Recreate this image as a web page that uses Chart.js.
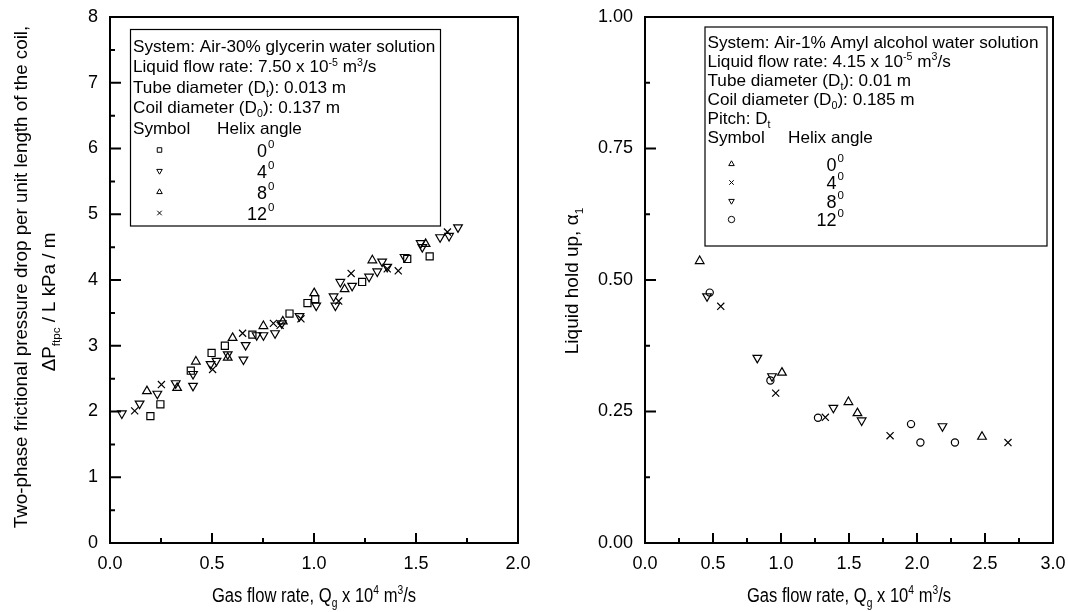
<!DOCTYPE html>
<html>
<head>
<meta charset="utf-8">
<title>Helical coil: pressure drop and liquid hold up</title>
<script src="https://cdn.jsdelivr.net/npm/chart.js"></script>
<style>
  body { margin: 0; background: #fff; }
  canvas { position: absolute; top: 0; }
  #left { left: 0; }
  #right { left: 534px; }
</style>
</head>
<body>
<canvas id="left" width="534" height="612"></canvas>
<canvas id="right" width="534" height="612"></canvas>
<script>
// left panel: pressure drop (kPa/m) vs gas flow rate (x 1e-4 m3/s)
const dp0x = [0.198, 0.247, 0.396, 0.498, 0.563, 0.698, 0.880, 0.968, 1.006, 1.236, 1.457, 1.567];
const dp0y = [1.93, 2.11, 2.62, 2.89, 3.00, 3.17, 3.49, 3.65, 3.71, 3.97, 4.32, 4.36];
const dp4x = [0.058, 0.145, 0.232, 0.322, 0.407, 0.407, 0.493, 0.522, 0.577, 0.654, 0.665, 0.719, 0.752, 0.809, 0.842, 0.929, 1.011, 1.096, 1.105, 1.129, 1.187, 1.270, 1.310, 1.334, 1.359, 1.444, 1.523, 1.531, 1.618, 1.662, 1.706];
const dp4y = [1.97, 2.12, 2.27, 2.43, 2.57, 2.39, 2.72, 2.77, 2.87, 2.79, 3.01, 3.16, 3.16, 3.19, 3.34, 3.45, 3.61, 3.75, 3.61, 3.97, 3.91, 4.05, 4.13, 4.28, 4.20, 4.35, 4.56, 4.50, 4.65, 4.67, 4.80];
const dp8x = [0.181, 0.329, 0.421, 0.577, 0.601, 0.752, 0.847, 1.001, 1.150, 1.286, 1.547];
const dp8y = [2.31, 2.36, 2.76, 2.82, 3.12, 3.30, 3.37, 3.80, 3.86, 4.30, 4.55];
const dp12x = [0.121, 0.252, 0.503, 0.650, 0.801, 0.834, 0.936, 1.121, 1.182, 1.359, 1.413, 1.654];
const dp12y = [2.01, 2.41, 2.64, 3.19, 3.34, 3.31, 3.41, 3.68, 4.10, 4.17, 4.14, 4.73];

// right panel: liquid hold up vs gas flow rate
const hu0x = [0.402, 1.007, 1.496, 1.562, 2.478];
const hu0y = [0.536, 0.324, 0.268, 0.247, 0.202];
const hu4x = [0.557, 0.961, 1.326, 1.802, 2.669];
const hu4y = [0.450, 0.285, 0.239, 0.204, 0.191];
const hu8x = [0.456, 0.826, 0.934, 1.385, 1.593, 2.187];
const hu8y = [0.469, 0.352, 0.317, 0.257, 0.233, 0.222];
const hu12x = [0.476, 0.922, 1.272, 1.956, 2.025, 2.279];
const hu12y = [0.476, 0.309, 0.238, 0.226, 0.191, 0.191];

const helixAngles = ['0', '4', '8', '12'];

const FONT = '"Liberation Sans", Arial, sans-serif';
Chart.defaults.font.family = FONT;
Chart.defaults.color = '#000';

const pts = (xs, ys) => xs.map((x, i) => ({x: x, y: ys[i]}));

// text with sub/superscripts: parts = [[text, ''|'^'|'_'], ...]
function richWidth(ctx, parts, size) {
  let w = 0;
  for (const [t, m] of parts) {
    ctx.font = (m ? size * 0.62 : size) + 'px ' + FONT;
    w += ctx.measureText(t).width;
  }
  return w;
}
function drawRich(ctx, parts, x, y, size, align, sx) {
  ctx.save();
  ctx.translate(x, y);
  ctx.scale(sx || 1, 1);
  ctx.fillStyle = '#000';
  ctx.textBaseline = 'alphabetic';
  ctx.textAlign = 'left';
  let cx = 0;
  const w = richWidth(ctx, parts, size);
  if (align === 'center') cx = -w / 2;
  if (align === 'right') cx = -w;
  for (const [t, m] of parts) {
    ctx.font = (m ? size * 0.62 : size) + 'px ' + FONT;
    const dy = m === '^' ? -size * 0.4 : m === '_' ? size * 0.25 : 0;
    ctx.fillText(t, cx, dy);
    cx += ctx.measureText(t).width;
  }
  ctx.restore();
}

function symbol(ctx, style, rot, r, x, y) {
  ctx.save();
  ctx.strokeStyle = '#000';
  ctx.fillStyle = 'rgba(0,0,0,0)';
  ctx.lineWidth = 1;
  Chart.helpers.drawPoint(ctx, {pointStyle: style, rotation: rot, radius: r, borderWidth: 1}, x, y);
  ctx.restore();
}

const decor = {
  id: 'decor',
  afterDatasetsDraw(chart, args, o) {
    const {ctx, chartArea: a} = chart;
    const sx = chart.scales.x, sy = chart.scales.y;
    ctx.save();
    ctx.strokeStyle = '#000';
    ctx.lineWidth = 2;
    ctx.strokeRect(a.left, a.top, a.right - a.left, a.bottom - a.top);
    // inward ticks, major every second one
    ctx.beginPath();
    const n = Math.round((sx.max - sx.min) / o.xMinor);
    for (let i = 1; i < n; i++) {
      const px = sx.getPixelForValue(sx.min + i * o.xMinor);
      const len = i % 2 === 0 ? 10 : 5;
      ctx.moveTo(px, a.bottom); ctx.lineTo(px, a.bottom - len);
    }
    const m = Math.round((sy.max - sy.min) / o.yMinor);
    for (let i = 1; i < m; i++) {
      const py = sy.getPixelForValue(sy.min + i * o.yMinor);
      const len = i % 2 === 0 ? 11 : 5;
      ctx.moveTo(a.left, py); ctx.lineTo(a.left + len, py);
    }
    ctx.stroke();

    // legend box
    const L = o.legend;
    ctx.lineWidth = 1.2;
    ctx.strokeRect(L.box[0], L.box[1], L.box[2], L.box[3]);
    L.lines.forEach((parts, i) => drawRich(ctx, parts, L.x, L.y0 + i * L.dy, L.size, 'left', L.sx));
    const hy = L.y0 + L.lines.length * L.dy;
    drawRich(ctx, [['Symbol', '']], L.x, hy, L.size, 'left', L.sx);
    drawRich(ctx, [['Helix angle', '']], L.headX, hy, L.size, 'left', L.sx);
    chart.data.datasets.forEach((ds, i) => {
      const y = L.symY0 + i * L.symDy;
      symbol(ctx, ds.pointStyle, ds.rotation || 0, L.symR, L.symX, y);
      drawRich(ctx, [[helixAngles[i], '']], L.angX, y + 6.5, 18, 'right');
      drawRich(ctx, [['0', '']], L.angX + 1, y - 2.5, 11.5, 'left');
    });

    // axis titles
    drawRich(ctx, o.xTitle, (a.left + a.right) / 2, 602, 19.5, 'center', 0.85);
    o.yTitle.forEach((parts, i) => {
      ctx.save();
      ctx.translate(o.yTitleX[i], o.yTitleY[i]);
      ctx.rotate(-Math.PI / 2);
      drawRich(ctx, parts, 0, 0, o.yTitleSize, 'center');
      ctx.restore();
    });
    ctx.restore();
  }
};

const xTitle = [['Gas flow rate, Q', ''], ['g', '_'], [' x 10', ''], ['4', '^'], [' m', ''], ['3', '^'], ['/s', '']];

// plot frame inside each 534 x 612 canvas: left = y axis width, top 17, bottom 543, 408 wide.
// label overflow padding is zeroed so that layout.padding alone places the frame.
function makeChart(id, datasets, xMax, yMax, yStep, yDigits, yAxisWidth, decorOpts) {
  return new Chart(document.getElementById(id), {
    type: 'scatter',
    data: {datasets: datasets},
    options: {
      responsive: false,
      animation: false,
      layout: {autoPadding: false, padding: {left: 0, top: 17, right: 534 - yAxisWidth - 408, bottom: 0}},
      plugins: {legend: {display: false}, tooltip: {enabled: false}, decor: decorOpts},
      scales: {
        x: {
          type: 'linear', min: 0, max: xMax,
          afterFit: (s) => { s.height = 69; s.paddingLeft = 0; s.paddingRight = 0; },
          grid: {display: false, drawTicks: false},
          border: {display: false},
          ticks: {stepSize: 0.5, padding: 10, autoSkip: false, maxRotation: 0,
                  font: {size: 18}, callback: (v) => v.toFixed(1)}
        },
        y: {
          type: 'linear', min: 0, max: yMax,
          afterFit: (s) => { s.width = yAxisWidth; s.paddingTop = 0; s.paddingBottom = 0; },
          grid: {display: false, drawTicks: false},
          border: {display: false},
          ticks: {stepSize: yStep, padding: 12, autoSkip: false,
                  font: {size: 18}, callback: (v) => v.toFixed(yDigits)}
        }
      }
    },
    plugins: [decor]
  });
}

const base = {borderColor: '#000', backgroundColor: 'rgba(0,0,0,0)', borderWidth: 1.2, showLine: false};

makeChart('left', [
  Object.assign({label: '0', data: pts(dp0x, dp0y), pointStyle: 'rect', radius: 5}, base),
  Object.assign({label: '4', data: pts(dp4x, dp4y), pointStyle: 'triangle', rotation: 180, radius: 5}, base),
  Object.assign({label: '8', data: pts(dp8x, dp8y), pointStyle: 'triangle', radius: 5}, base),
  Object.assign({label: '12', data: pts(dp12x, dp12y), pointStyle: 'crossRot', radius: 5}, base)
], 2, 8, 1, 0, 110, {
  xMinor: 0.25, yMinor: 0.5,
  xTitle: xTitle,
  yTitle: [
    [['Two-phase frictional pressure drop per unit length of the coil,', '']],
    [['\u0394P', ''], ['ftpc', '_'], [' / L kPa / m', '']]
  ],
  yTitleX: [27, 55], yTitleY: [277, 302], yTitleSize: 18.75,
  legend: {
    box: [130.5, 29.5, 310, 196.5], x: 133, y0: 51.5, dy: 20.6, size: 16.5, sx: 1.04,
    lines: [
      [['System: Air-30% glycerin water solution', '']],
      [['Liquid flow rate: 7.50 x 10', ''], ['-5', '^'], [' m', ''], ['3', '^'], ['/s', '']],
      [['Tube diameter (D', ''], ['t', '_'], ['): 0.013 m', '']],
      [['Coil diameter (D', ''], ['0', '_'], ['): 0.137 m', '']]
    ],
    headX: 217, symX: 159.5, symY0: 150, symDy: 21, symR: 3.2, angX: 267
  }
});

makeChart('right', [
  Object.assign({label: '0', data: pts(hu0x, hu0y), pointStyle: 'triangle', radius: 5}, base),
  Object.assign({label: '4', data: pts(hu4x, hu4y), pointStyle: 'crossRot', radius: 5}, base),
  Object.assign({label: '8', data: pts(hu8x, hu8y), pointStyle: 'triangle', rotation: 180, radius: 5}, base),
  Object.assign({label: '12', data: pts(hu12x, hu12y), pointStyle: 'circle', radius: 3.6}, base)
], 3, 1, 0.25, 2, 111, {
  xMinor: 0.25, yMinor: 0.125,
  xTitle: xTitle,
  yTitle: [[['Liquid hold up, \u03b1', ''], ['1', '_']]],
  yTitleX: [44], yTitleY: [281], yTitleSize: 19,
  legend: {
    box: [171, 27, 342, 219], x: 173.5, y0: 47.5, dy: 19, size: 16.5, sx: 1.04,
    lines: [
      [['System: Air-1% Amyl alcohol water solution', '']],
      [['Liquid flow rate: 4.15 x 10', ''], ['-5', '^'], [' m', ''], ['3', '^'], ['/s', '']],
      [['Tube diameter (D', ''], ['t', '_'], ['): 0.01 m', '']],
      [['Coil diameter (D', ''], ['0', '_'], ['): 0.185 m', '']],
      [['Pitch: D', ''], ['t', '_']]
    ],
    headX: 254, symX: 197.5, symY0: 164, symDy: 18.5, symR: 3.2, angX: 302.5
  }
});
</script>
</body>
</html>
